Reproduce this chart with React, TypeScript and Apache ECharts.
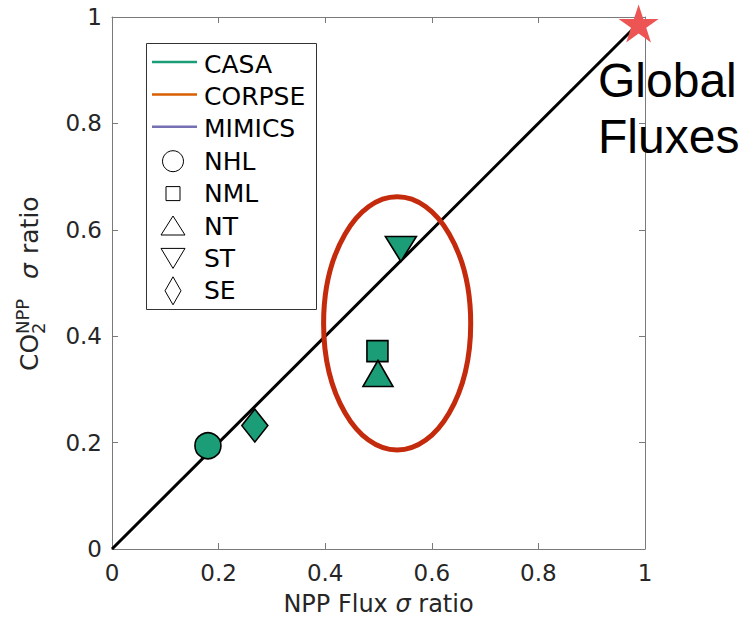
import React, { useEffect, useRef } from "react";
import * as echarts from "echarts";

// ---- data ----
const regionNames = ["NHL", "NML", "NT", "ST", "SE"];
const casaFluxRatio = [0.18, 0.498, 0.499, 0.542, 0.268]; // x: NPP Flux sigma ratio
const casaCO2Ratio = [0.194, 0.372, 0.33, 0.564, 0.232]; // y: CO2 NPP sigma ratio
const globalFluxPoint = [0.988, 0.988];
const oneToOneLine = [
  [0, 0],
  [0.985, 0.985],
];
// CORPSE ellipse: centre x, centre y, radius x, radius y (data units)
const corpseEllipse = [0.535, 0.424, 0.138, 0.238];
const modelNames = ["CASA", "CORPSE", "MIMICS"];
const modelColors = ["#1b9e77", "#d95f02", "#7570b3"];
const axisTicks = [0, 0.2, 0.4, 0.6, 0.8, 1];

const FONT = "DejaVu Sans";
const GREEN = modelColors[0];

const regionSymbols: any[] = [
  { symbol: "circle", size: 26, rotate: 0 },
  { symbol: "rect", size: 21, rotate: 0 },
  { symbol: "triangle", size: [30, 26], rotate: 0 },
  { symbol: "triangle", size: [31, 25], rotate: 180 },
  { symbol: "diamond", size: [26, 33], rotate: 0 },
];

const STAR =
  "path://M100,0 L122.45,69.1 L195.1,69.1 L136.33,111.8 L158.78,180.9 L100,138.2 L41.22,180.9 L63.67,111.8 L4.9,69.1 L77.55,69.1 Z";

function txt(text: string, x: number, y: number, size: number, extra: any = {}) {
  return {
    type: "text",
    x,
    y,
    z: 100,
    style: {
      text,
      fontSize: size,
      fontFamily: extra.fontFamily || FONT,
      fontStyle: extra.fontStyle || "normal",
      fill: extra.fill || "#000",
      align: "left",
      verticalAlign: "middle",
      textAlign: "left",
      textVerticalAlign: "middle",
    },
  };
}

export default function App() {
  const ref = useRef<HTMLDivElement>(null);

  useEffect(() => {
    if (!ref.current) return;
    const chart = echarts.init(ref.current, null, { renderer: "svg" });

    const axisLine = { show: true, onZero: false, lineStyle: { color: "#7a7a7a", width: 1 } };
    const axisTick = { show: true, inside: true, length: 6, lineStyle: { color: "#7a7a7a", width: 1 } };
    const labelStyle = { fontSize: 23, fontFamily: FONT, color: "#262626" };

    const scatterSeries = regionNames.map((name, i) => ({
      name,
      type: "scatter",
      z: 4,
      clip: false,
      symbol: regionSymbols[i].symbol,
      symbolSize: regionSymbols[i].size,
      symbolRotate: regionSymbols[i].rotate,
      itemStyle: { color: GREEN, borderColor: "#000", borderWidth: 1.6, opacity: 1 },
      data: [[casaFluxRatio[i], casaCO2Ratio[i]]],
    }));

    // Legend (drawn as graphic)
    const rowY0 = 64;
    const pitch = 32.4;
    const legendEls: any[] = [
      {
        type: "rect",
        z: 90,
        shape: { x: 146.5, y: 43.5, width: 170, height: 266 },
        style: { fill: "#fff", stroke: "#333", lineWidth: 1 },
      },
    ];
    modelNames.forEach((n, i) => {
      const y = rowY0 + i * pitch - 2;
      legendEls.push({
        type: "line",
        z: 100,
        shape: { x1: 152, y1: y, x2: 197, y2: y },
        style: { stroke: modelColors[i], lineWidth: 2.5 },
      });
      legendEls.push(txt(n, 204, rowY0 + i * pitch, 25));
    });
    const mk = { fill: "none", stroke: "#000", lineWidth: 1 };
    const cx = 173;
    const ry = (k: number) => rowY0 + (k + 3) * pitch;
    legendEls.push({ type: "circle", z: 100, shape: { cx, cy: ry(0), r: 10.5 }, style: mk });
    legendEls.push({ type: "rect", z: 100, shape: { x: cx - 7, y: ry(1) - 7, width: 14, height: 14 }, style: mk });
    legendEls.push({
      type: "polygon",
      z: 100,
      shape: { points: [[cx, ry(2) - 10], [cx + 12, ry(2) + 9], [cx - 12, ry(2) + 9]] },
      style: mk,
    });
    legendEls.push({
      type: "polygon",
      z: 100,
      shape: { points: [[cx - 12, ry(3) - 10], [cx + 12, ry(3) - 10], [cx, ry(3) + 10]] },
      style: mk,
    });
    legendEls.push({
      type: "polygon",
      z: 100,
      shape: { points: [[cx, ry(4) - 14], [cx + 8, ry(4)], [cx, ry(4) + 14], [cx - 8, ry(4)]] },
      style: mk,
    });
    regionNames.forEach((n, k) => legendEls.push(txt(n, 204, ry(k), 25)));

    // y axis title with stacked sub/superscript
    const yTitle = {
      type: "group",
      x: 38,
      y: 371,
      rotation: Math.PI / 2,
      children: [
        txt("CO", 0, -8.6, 25, { fill: "#262626" }),
        txt("2", 37, 0.5, 18, { fill: "#262626" }),
        txt("NPP", 37, -16, 18, { fill: "#262626" }),
        txt("σ", 92, -8.6, 25, { fill: "#262626", fontStyle: "italic" }),
        txt("ratio", 117, -8.6, 25, { fill: "#262626" }),
      ],
    };

    const option: any = {
      animation: false,
      backgroundColor: "#fff",
      grid: { left: 112, top: 17, width: 533, height: 532, containLabel: false },
      xAxis: [
        {
          type: "value",
          min: axisTicks[0],
          max: axisTicks[axisTicks.length - 1],
          interval: 0.2,
          position: "bottom",
          splitLine: { show: false },
          axisLine,
          axisTick,
          axisLabel: { ...labelStyle, margin: 12 },
          name: "NPP Flux {s|σ} ratio",
          nameLocation: "middle",
          nameGap: 43,
          nameTextStyle: {
            fontSize: 24,
            fontFamily: FONT,
            color: "#262626",
            rich: { s: { fontSize: 24, fontFamily: FONT, fontStyle: "italic", color: "#262626" } },
          },
        },
        {
          type: "value",
          min: 0,
          max: 1,
          interval: 0.2,
          position: "top",
          splitLine: { show: false },
          axisLine,
          axisTick,
          axisLabel: { show: false },
        },
      ],
      yAxis: [
        {
          type: "value",
          min: axisTicks[0],
          max: axisTicks[axisTicks.length - 1],
          interval: 0.2,
          position: "left",
          splitLine: { show: false },
          axisLine,
          axisTick,
          axisLabel: { ...labelStyle, margin: 10 },
        },
        {
          type: "value",
          min: 0,
          max: 1,
          interval: 0.2,
          position: "right",
          splitLine: { show: false },
          axisLine,
          axisTick,
          axisLabel: { show: false },
        },
      ],
      series: [
        {
          name: "1:1",
          type: "line",
          z: 2,
          symbol: "none",
          lineStyle: { color: "#000", width: 3 },
          data: oneToOneLine,
        },
        {
          name: "CORPSE spread",
          type: "custom",
          z: 3,
          clip: false,
          data: [corpseEllipse],
          renderItem: (params: any, api: any) => {
            const c = api.coord([api.value(0), api.value(1)]);
            const s = api.size([api.value(2), api.value(3)]);
            return {
              type: "ellipse",
              shape: { cx: c[0], cy: c[1], rx: s[0], ry: s[1] },
              style: { fill: "none", stroke: "#c42a0c", lineWidth: 5 },
            };
          },
        },
        ...scatterSeries,
        {
          name: "Global Fluxes",
          type: "scatter",
          z: 5,
          clip: false,
          symbol: STAR,
          symbolSize: [40, 38],
          itemStyle: { color: "#ec5553", borderWidth: 0, opacity: 1 },
          data: [globalFluxPoint],
        },
      ],
      graphic: [
        ...legendEls,
        yTitle,
        txt("Global", 598, 80.4, 48, { fontFamily: "Liberation Sans" }),
        txt("Fluxes", 598, 136.4, 48, { fontFamily: "Liberation Sans" }),
      ],
    };

    chart.setOption(option);
    return () => chart.dispose();
  }, []);

  return (
    <div
      ref={ref}
      style={{ position: "fixed", left: 0, top: 0, width: 744, height: 623, background: "#fff" }}
    />
  );
}
